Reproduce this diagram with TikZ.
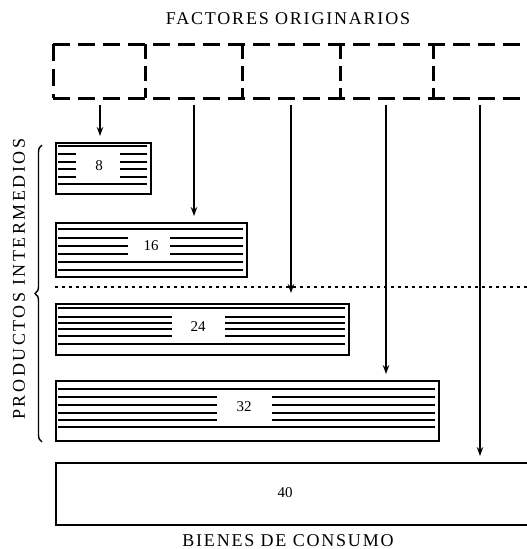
\documentclass[tikz,border=0pt]{standalone}
\usepackage{fontspec}
\setmainfont{Liberation Serif}
\usetikzlibrary{decorations.pathreplacing,arrows.meta}
\newcommand\mystripes[6]{%
  \foreach \yy in {#5} {\draw[stripe] (#1,\yy) -- (#2,\yy);}
  \foreach \yy in {#6} {\draw[stripe] (#1,\yy) -- (#3,\yy) (#4,\yy) -- (#2,\yy);}
}
\begin{document}
\begin{tikzpicture}[x=1pt,y=-1pt,
  lbl/.style={font=\fontsize{18}{20}\selectfont\addfontfeatures{LetterSpace=10}, inner sep=0pt},
  num/.style={font=\fontsize{15}{16}\selectfont, inner sep=1pt},
  prodbox/.style={draw, line width=2pt, anchor=north west, inner sep=0pt},
  comp/.style={minimum height=54, inner sep=0pt},
  flow/.style={line width=1.5pt, -{Stealth[length=9pt,width=6.5pt]}, shorten <=7pt, shorten >=6pt},
  stripe/.style={line width=1.4pt},
  factline/.style={line width=3pt, dash pattern=on 17pt off 8pt},
  sepline/.style={line width=2.5pt, dash pattern=on 2.5pt off 4.5pt}]

\useasboundingbox (0,0) rectangle (527,549);

% titles
\node[lbl] (top) at (288,19) {FACTORES ORIGINARIOS};
\node[lbl, anchor=base] (bottom) at (288,546) {BIENES DE CONSUMO};
\node[lbl, rotate=90, font=\fontsize{18}{20}\selectfont\addfontfeatures{LetterSpace=14}] (side) at (19,279) {PRODUCTOS INTERMEDIOS};

% compartments of original factors
\node[comp, minimum width=92] (c1) at (100,71) {};
\node[comp, minimum width=97] (c2) at (194,71) {};
\node[comp, minimum width=98] (c3) at (291,71) {};
\node[comp, minimum width=93] (c4) at (386,71) {};
\node[comp, minimum width=94] (c5) at (480,71) {};
\draw[factline] (53,44) -- (545,44);
\draw[factline] (53,98) -- (545,98);
\draw[factline] (53,44) -- (53,98);
\foreach \xx in {145,242,340,433} \draw[factline, dash pattern=on 15pt off 7pt] (\xx,44) -- (\xx,98);

% separator
\draw[sepline] (55,287) -- (527,287);

% boxes
\node[prodbox, minimum width=95, minimum height=51] (b8) at (55,142) {};
\node[prodbox, minimum width=191, minimum height=54] (b16) at (55,222) {};
\node[prodbox, minimum width=293, minimum height=51] (b24) at (55,303) {};
\node[prodbox, minimum width=383, minimum height=60] (b32) at (55,380) {};
\node[prodbox, minimum width=490, minimum height=62] (b40) at (55,462) {};

% stripes
\mystripes{58}{147}{76}{120}{146,184}{154,162,169,177}
\mystripes{58}{243}{128}{170}{229,262,270}{238,246,254}
\mystripes{58}{345}{172}{225}{308,344}{317,323,329,336}
\mystripes{58}{435}{217}{272}{389,427}{397,405,413,420}

% numbers
\node[num] (n8) at (99,166) {8};
\node[num] (n16) at (151,246) {16};
\node[num] (n24) at (198,327) {24};
\node[num] (n32) at (244,407) {32};
\node[num] (n40) at (285,493) {40};

% flows
\draw[flow] (c1.south) -- (c1.south |- b8.north);
\draw[flow] (c2.south) -- (c2.south |- b16.north);
\draw[flow, shorten >=10pt] (c3.south) -- (c3.south |- b24.north);
\draw[flow] (c4.south) -- (c4.south |- b32.north);
\draw[flow] (c5.south) -- (c5.south |- b40.north);

% brace
\draw[line width=1.4pt, decorate, decoration={brace, amplitude=7pt}] (42,442) -- (42,145);
\end{tikzpicture}
\end{document}
